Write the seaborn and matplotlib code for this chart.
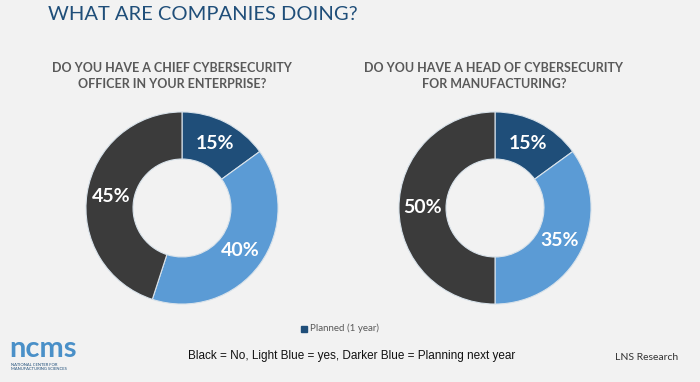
import matplotlib
matplotlib.use("Agg")
import matplotlib.pyplot as plt
import seaborn as sns

# data
questions = [
    "DO YOU HAVE A CHIEF CYBERSECURITY\nOFFICER IN YOUR ENTERPRISE?",
    "DO YOU HAVE A HEAD OF CYBERSECURITY\nFOR MANUFACTURING?",
]
categories = ["Planned (1 year)", "Yes", "No"]
cso_values = [15, 40, 45]
head_values = [15, 35, 50]

colors = ["#1f4e79", "#5b9bd5", "#3b3b3b"]
bg = "#f2f2f2"

sns.set_theme(style="white")
plt.rcParams["font.family"] = ["Lato", "DejaVu Sans"]

W, H = 700, 382
fig = plt.figure(figsize=(W / 100, H / 100), dpi=100, facecolor=bg)

def donut(cx, cy, r, values):
    ax = fig.add_axes([(cx - r) / W, (H - cy - r) / H, 2 * r / W, 2 * r / H])
    ax.set_facecolor(bg)
    wedges, texts, autotexts = ax.pie(
        values, colors=colors, startangle=90, counterclock=False, radius=1,
        autopct=lambda p: f"{p:.0f}%", pctdistance=0.75,
        wedgeprops=dict(width=0.49, edgecolor="#d8e2ea", linewidth=0.8),
        textprops=dict(color="white", fontsize=14, fontweight="bold"),
    )
    ax.set_xlim(-1.01, 1.01)
    ax.set_ylim(-1.01, 1.01)
    ax.axis("off")
    return ax

donut(182, 208, 97, cso_values)
donut(495, 208, 97, head_values)

fig.text(48 / W, 1 - 14 / H, "WHAT ARE COMPANIES DOING?", color="#1f4e79",
         fontsize=14.5, ha="left", va="center")
fig.text(172 / W, 1 - 76 / H, questions[0], color="#595959", fontsize=9,
         fontweight="bold", ha="center", va="center", linespacing=1.45)
fig.text(494 / W, 1 - 76 / H, questions[1], color="#595959", fontsize=9,
         fontweight="bold", ha="center", va="center", linespacing=1.45)

# legend
fig.patches.append(plt.Rectangle((301 / W, 1 - 332 / H), 6 / W, 6 / H,
                                 transform=fig.transFigure, color=colors[0]))
fig.text(310 / W, 1 - 328 / H, categories[0], color="#595959", fontsize=7,
         ha="left", va="center")

fig.text(352 / W, 1 - 356 / H,
         "Black = No, Light Blue = yes, Darker Blue = Planning next year",
         fontsize=8.5, family=["Liberation Sans", "DejaVu Sans"],
         ha="center", va="center", color="#111111")
fig.text(647 / W, 1 - 358 / H, "LNS Research", fontsize=7.5, color="#333333",
         ha="center", va="center")

# logo approximation
fig.text(9 / W, 1 - 349 / H, "ncms", color="#4a90c8", fontsize=21,
         fontweight="bold", ha="left", va="center")
fig.text(11 / W, 1 - 367 / H, "NATIONAL CENTER FOR\nMANUFACTURING SCIENCES",
         color="#1f4e79", fontsize=3, ha="left", va="center", linespacing=1.1)

fig.savefig("out.png", dpi=100, facecolor=bg)
